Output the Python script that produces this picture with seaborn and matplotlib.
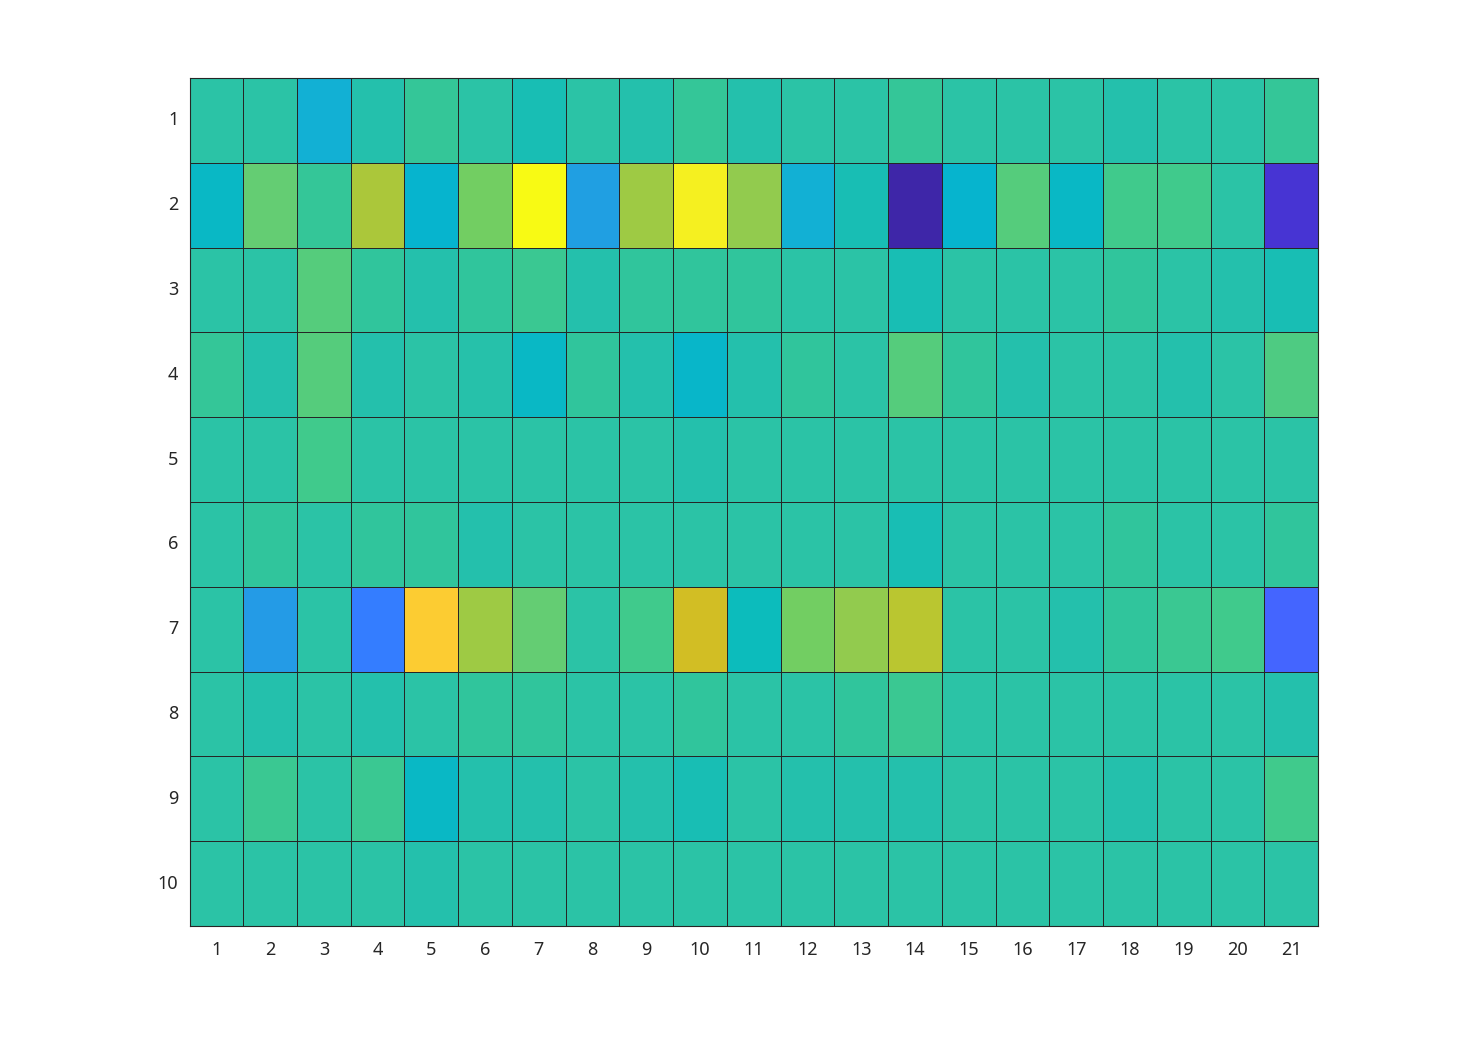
import numpy as np
import pandas as pd
import matplotlib
matplotlib.use("Agg")
import matplotlib.pyplot as plt
from matplotlib.colors import LinearSegmentedColormap
import seaborn as sns

# --- DATA (relative values, 0 = darkest, 1 = brightest) ---
row_labels = [str(i) for i in range(1, 11)]
col_labels = [str(i) for i in range(1, 22)]

row1 = [0.46, 0.46, 0.30, 0.43, 0.50, 0.46, 0.40, 0.46, 0.43, 0.50, 0.43,
        0.46, 0.46, 0.50, 0.46, 0.46, 0.46, 0.43, 0.46, 0.46, 0.50]
row2 = [0.36, 0.61, 0.50, 0.73, 0.34, 0.64, 1.00, 0.26, 0.70, 0.95, 0.67,
        0.30, 0.40, 0.00, 0.34, 0.58, 0.36, 0.55, 0.55, 0.46, 0.06]
row3 = [0.46, 0.46, 0.58, 0.49, 0.43, 0.49, 0.52, 0.43, 0.49, 0.49, 0.49,
        0.46, 0.46, 0.40, 0.46, 0.46, 0.46, 0.49, 0.46, 0.43, 0.40]
row4 = [0.50, 0.43, 0.58, 0.43, 0.46, 0.44, 0.36, 0.49, 0.43, 0.35, 0.43,
        0.49, 0.46, 0.58, 0.49, 0.43, 0.46, 0.46, 0.43, 0.46, 0.57]
row5 = [0.46, 0.46, 0.55, 0.46, 0.46, 0.46, 0.46, 0.46, 0.46, 0.43, 0.46,
        0.46, 0.46, 0.46, 0.46, 0.46, 0.46, 0.46, 0.46, 0.46, 0.46]
row6 = [0.46, 0.49, 0.46, 0.49, 0.49, 0.43, 0.46, 0.46, 0.46, 0.46, 0.46,
        0.46, 0.46, 0.40, 0.46, 0.46, 0.46, 0.49, 0.46, 0.46, 0.49]
row7 = [0.46, 0.25, 0.46, 0.18, 0.87, 0.70, 0.61, 0.46, 0.55, 0.80, 0.38,
        0.64, 0.67, 0.76, 0.46, 0.46, 0.43, 0.49, 0.52, 0.55, 0.12]
row8 = [0.46, 0.43, 0.46, 0.43, 0.46, 0.49, 0.49, 0.46, 0.46, 0.49, 0.46,
        0.46, 0.49, 0.52, 0.46, 0.46, 0.46, 0.46, 0.46, 0.46, 0.43]
row9 = [0.46, 0.52, 0.46, 0.52, 0.36, 0.43, 0.43, 0.46, 0.43, 0.40, 0.46,
        0.43, 0.43, 0.43, 0.46, 0.46, 0.46, 0.43, 0.46, 0.46, 0.55]
row10 = [0.46, 0.46, 0.46, 0.46, 0.43, 0.46, 0.46, 0.46, 0.46, 0.46, 0.46,
         0.46, 0.46, 0.46, 0.46, 0.46, 0.46, 0.46, 0.46, 0.46, 0.46]

values = pd.DataFrame([row1, row2, row3, row4, row5, row6, row7, row8, row9, row10],
                      index=row_labels, columns=col_labels)

# --- parula-like colormap ---
anchors = [
    (0.00, (62, 38, 168)),
    (0.06, (71, 52, 212)),
    (0.12, (68, 102, 255)),
    (0.18, (52, 125, 255)),
    (0.25, (36, 155, 230)),
    (0.30, (18, 176, 212)),
    (0.34, (6, 180, 206)),
    (0.38, (12, 188, 188)),
    (0.40, (24, 190, 180)),
    (0.43, (36, 192, 172)),
    (0.46, (43, 195, 166)),
    (0.49, (48, 197, 156)),
    (0.52, (58, 200, 146)),
    (0.55, (64, 202, 140)),
    (0.58, (86, 204, 124)),
    (0.61, (100, 205, 115)),
    (0.64, (114, 206, 98)),
    (0.67, (145, 203, 78)),
    (0.70, (158, 202, 68)),
    (0.73, (171, 199, 58)),
    (0.76, (185, 198, 48)),
    (0.80, (210, 190, 36)),
    (0.87, (252, 204, 50)),
    (0.95, (245, 240, 32)),
    (1.00, (248, 250, 20)),
]
parula = LinearSegmentedColormap.from_list(
    "parula_like", [(p, tuple(c / 255 for c in rgb)) for p, rgb in anchors], N=512)

# --- PLOT ---
sns.set_theme(style="white")
plt.rcParams['font.family'] = ['Noto Sans', 'DejaVu Sans']

fig = plt.figure(figsize=(14.58, 10.42), dpi=100)
ax = fig.add_axes([0.13, 0.1113, 0.774, 0.8138])

sns.heatmap(values, ax=ax, cmap=parula, vmin=0, vmax=1, cbar=False,
            linewidths=0.5, linecolor='#262626')

for side in ['top', 'bottom', 'left', 'right']:
    ax.spines[side].set_visible(True)
    ax.spines[side].set_color('#262626')
    ax.spines[side].set_linewidth(0.8)

ax.tick_params(axis='both', length=0, labelsize=13, colors='#262626')
ax.tick_params(axis='x', pad=11)
ax.tick_params(axis='y', pad=8)
plt.setp(ax.get_yticklabels(), rotation=0)
plt.setp(ax.get_xticklabels(), rotation=0)
ax.set_xlabel('')
ax.set_ylabel('')

fig.savefig('out.png', dpi=100, facecolor='white')
